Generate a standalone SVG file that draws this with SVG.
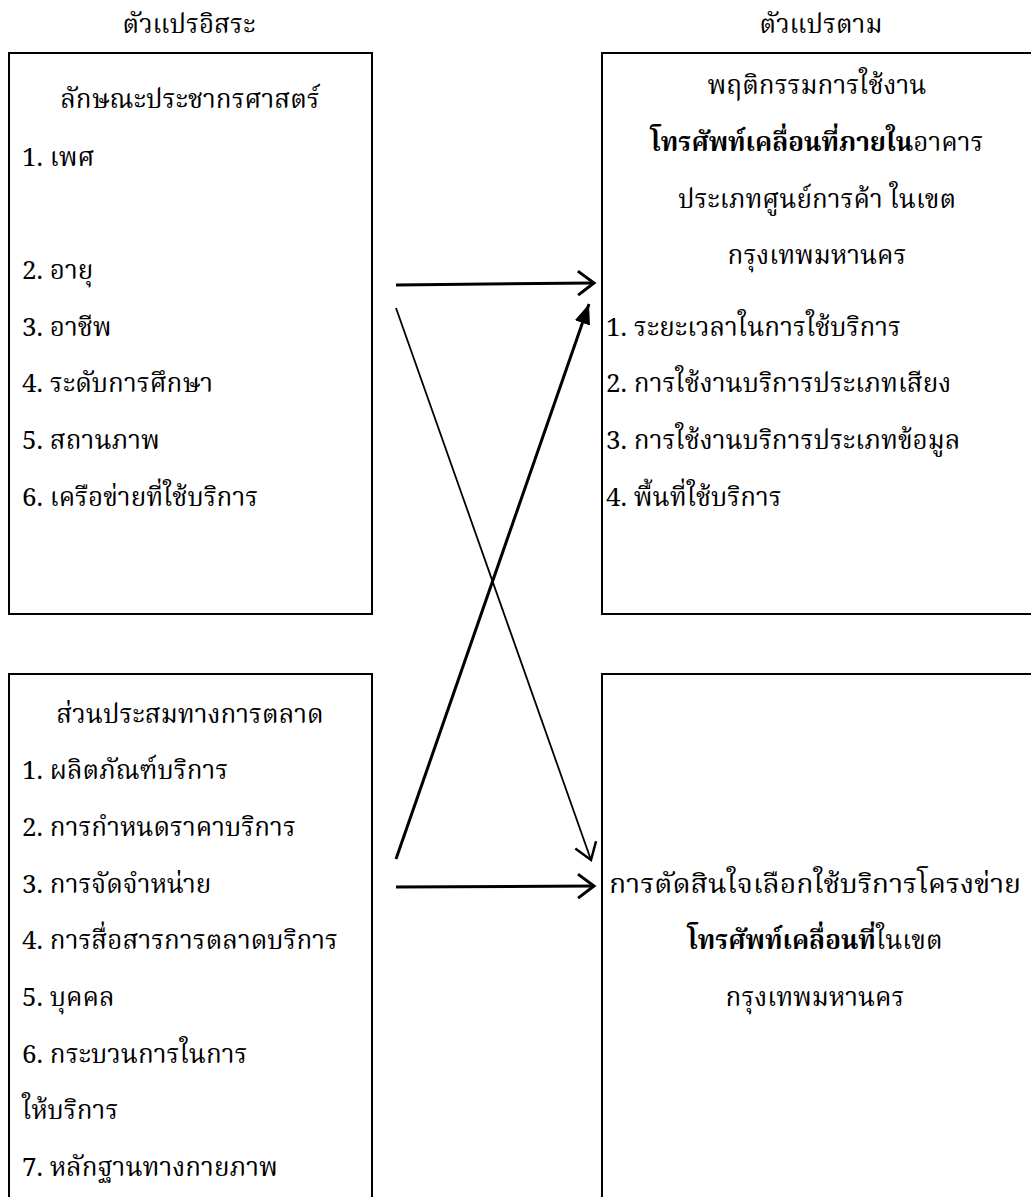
<svg xmlns="http://www.w3.org/2000/svg" width="1031" height="1197" viewBox="0 0 1031 1197">
<style>
text{font-family:"Norasi","Noto Serif Thai","Noto Sans Thai","Loma","Garuda","Liberation Serif",serif;font-size:26px;fill:#000}
.c{text-anchor:middle}
.b{font-weight:bold}
.box{fill:none;stroke:#000;stroke-width:2}
</style>
<defs>
<marker id="open" markerUnits="userSpaceOnUse" markerWidth="24" markerHeight="30" refX="20" refY="15" orient="auto">
<path d="M4,3 L20,15 L4,27" fill="none" stroke="#000" stroke-width="3"/>
</marker>
<marker id="openthin" markerUnits="userSpaceOnUse" markerWidth="24" markerHeight="30" refX="20" refY="15" orient="auto">
<path d="M4,4 L20,15 L4,26" fill="none" stroke="#000" stroke-width="2.5"/>
</marker>
<marker id="fill" markerUnits="userSpaceOnUse" markerWidth="24" markerHeight="20" refX="20" refY="10" orient="auto">
<path d="M0,2 L20,10 L0,18 Z" fill="#000"/>
</marker>
</defs>
<rect width="1031" height="1197" fill="#fff"/>
<text class="c" x="189" y="33">ตัวแปรอิสระ</text>
<text class="c" x="821" y="33">ตัวแปรตาม</text>
<g id="demographic">
<rect class="box" x="9" y="53" width="363" height="561"/>
<text class="c" x="190" y="108">ลักษณะประชากรศาสตร์</text>
<text x="22" y="166">1. เพศ</text>
<text x="22" y="279">2. อายุ</text>
<text x="22" y="336">3. อาชีพ</text>
<text x="22" y="392">4. ระดับการศึกษา</text>
<text x="22" y="449">5. สถานภาพ</text>
<text x="22" y="506">6. เครือข่ายที่ใช้บริการ</text>
</g>
<g id="marketing-mix">
<rect class="box" x="9" y="674" width="363" height="540"/>
<text class="c" x="190" y="723">ส่วนประสมทางการตลาด</text>
<text x="22" y="779">1. ผลิตภัณฑ์บริการ</text>
<text x="22" y="836">2. การกำหนดราคาบริการ</text>
<text x="22" y="893">3. การจัดจำหน่าย</text>
<text x="22" y="949">4. การสื่อสารการตลาดบริการ</text>
<text x="22" y="1006">5. บุคคล</text>
<text x="22" y="1063">6. กระบวนการในการ</text>
<text x="22" y="1119">ให้บริการ</text>
<text x="22" y="1176">7. หลักฐานทางกายภาพ</text>
</g>
<g id="behavior">
<rect class="box" x="602" y="53" width="440" height="561"/>
<text class="c" x="817" y="94">พฤติกรรมการใช้งาน</text>
<text class="c" x="817" y="151"><tspan class="b">โทรศัพท์เคลื่อนที่ภายใน</tspan>อาคาร</text>
<text class="c" x="817" y="208">ประเภทศูนย์การค้า ในเขต</text>
<text class="c" x="817" y="264">กรุงเทพมหานคร</text>
<text x="606" y="336">1. ระยะเวลาในการใช้บริการ</text>
<text x="606" y="392">2. การใช้งานบริการประเภทเสียง</text>
<text x="606" y="449">3. การใช้งานบริการประเภทข้อมูล</text>
<text x="606" y="506">4. พื้นที่ใช้บริการ</text>
</g>
<g id="decision">
<rect class="box" x="602" y="674" width="440" height="540"/>
<text class="c" x="815" y="893" textLength="412" lengthAdjust="spacingAndGlyphs">การตัดสินใจเลือกใช้บริการโครงข่าย</text>
<text class="c" x="815" y="949"><tspan class="b">โทรศัพท์เคลื่อนที่</tspan>ในเขต</text>
<text class="c" x="815" y="1006">กรุงเทพมหานคร</text>
</g>
<g id="connectors" fill="none" stroke="#000">
<line x1="396" y1="285" x2="594" y2="283" stroke-width="3" marker-end="url(#open)"/>
<line x1="396" y1="308" x2="591" y2="860" stroke-width="1.8" marker-end="url(#openthin)"/>
<line x1="396" y1="859" x2="589" y2="304" stroke-width="3" marker-end="url(#fill)"/>
<line x1="396" y1="887" x2="594" y2="886" stroke-width="3" marker-end="url(#open)"/>
</g>
</svg>
